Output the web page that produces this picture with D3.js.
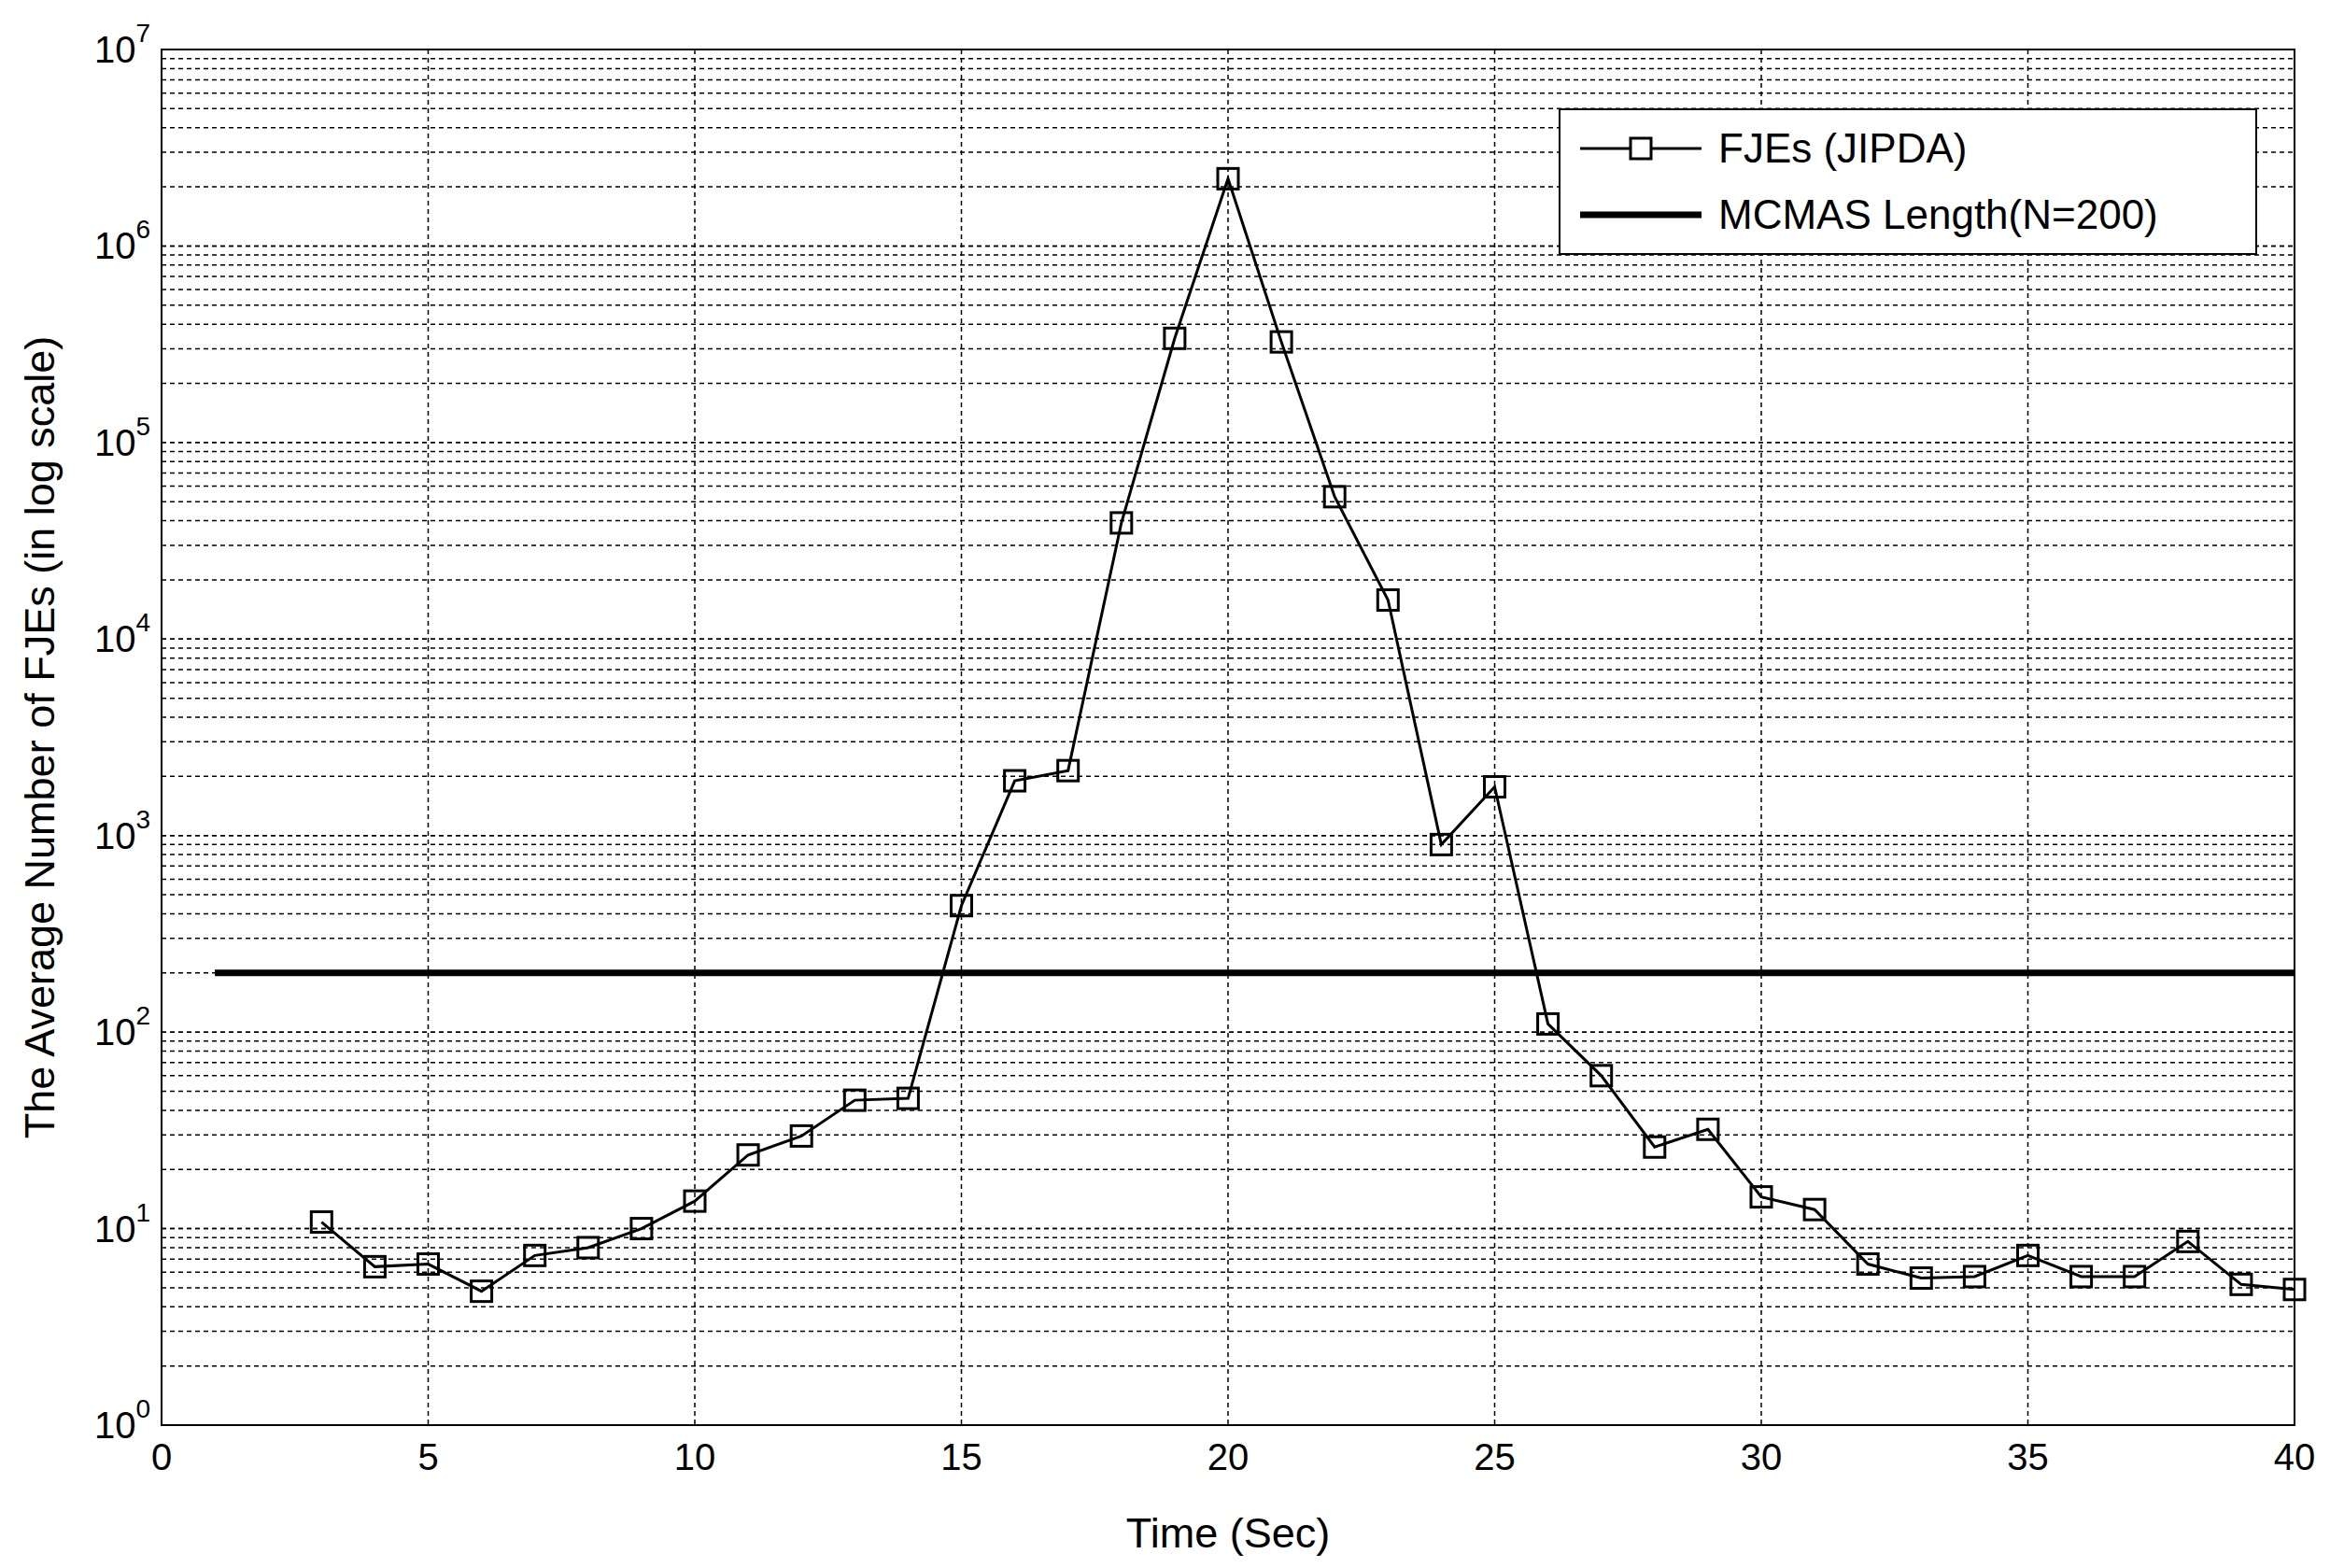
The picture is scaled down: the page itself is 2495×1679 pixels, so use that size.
<!DOCTYPE html>
<html><head><meta charset="utf-8">
<script src="https://cdn.jsdelivr.net/npm/d3@7"></script>
<style>body{margin:0;background:#fff}text{font-family:Arial,"Liberation Sans",sans-serif}</style>
</head><body><svg id="c" width="2495" height="1679"></svg>
<script>
const times = d3.range(3, 41);
const fjes = [10.8, 6.4, 6.6, 4.8, 7.3, 8.0, 10, 13.8, 23.7, 29.6, 45, 46, 440, 1900, 2140,
  39000, 339000, 2200000, 325000, 53000, 15800, 900, 1770, 110, 60, 26, 32, 14.5, 12.5,
  6.6, 5.6, 5.7, 7.3, 5.7, 5.7, 8.6, 5.2, 4.9];
const mcmasX = [1, 40];
const mcmasY = 200;
const xTicks = [0, 5, 10, 15, 20, 25, 30, 35, 40];
const yExp = [0, 1, 2, 3, 4, 5, 6, 7];

const m = {l: 173, r: 38, t: 53, b: 153};
const W = 2495, H = 1679, w = W - m.l - m.r, h = H - m.t - m.b;
const svg = d3.select("#c");
const g = svg.append("g").attr("transform", `translate(${m.l},${m.t})`);
const x = d3.scaleLinear().domain([0, 40]).range([0, w]);
const y = d3.scaleLog().domain([1, 1e7]).range([h, 0]);

// grid
const minor = [];
for (let e = 0; e < 7; e++) for (let k = 1; k <= 10; k++) minor.push(k * Math.pow(10, e));
g.selectAll(".gy").data(minor).join("line")
  .attr("x1", 0).attr("x2", w).attr("y1", d => y(d)).attr("y2", d => y(d))
  .attr("stroke", "#000").attr("stroke-width", 1.5).attr("stroke-dasharray", "5,4");
g.selectAll(".gx").data(xTicks).join("line")
  .attr("x1", d => x(d)).attr("x2", d => x(d)).attr("y1", 0).attr("y2", h)
  .attr("stroke", "#000").attr("stroke-width", 1.5).attr("stroke-dasharray", "5,4");

g.append("rect").attr("width", w).attr("height", h).attr("fill", "none").attr("stroke", "#000").attr("stroke-width", 2);

// ticks
g.selectAll(".tx").data(xTicks).join("text")
  .attr("x", d => x(d)).attr("y", h + 48).attr("text-anchor", "middle")
  .attr("font-size", 40).text(d => d);
const yl = g.selectAll(".ty").data(yExp).join("text")
  .attr("x", -12).attr("y", d => y(Math.pow(10, d)) + 14).attr("text-anchor", "end").attr("font-size", 40);
yl.append("tspan").text("10");
yl.append("tspan").attr("dy", -22).attr("font-size", 28).text(d => d);

svg.append("text").attr("x", m.l + w / 2).attr("y", H - 22).attr("text-anchor", "middle")
  .attr("font-size", 45).text("Time (Sec)");
svg.append("text").attr("transform", `translate(58,${m.t + h / 2}) rotate(-90)`).attr("text-anchor", "middle")
  .attr("font-size", 45).text("The Average Number of FJEs (in log scale)");

// MCMAS
g.append("line").attr("x1", x(mcmasX[0])).attr("x2", x(mcmasX[1]))
  .attr("y1", y(mcmasY)).attr("y2", y(mcmasY)).attr("stroke", "#000").attr("stroke-width", 7);

// FJEs
const data = times.map((t, i) => [t, fjes[i]]);
g.append("path").datum(data).attr("fill", "none").attr("stroke", "#000").attr("stroke-width", 3)
  .attr("d", d3.line().x(d => x(d[0])).y(d => y(d[1])));
const s = 22;
g.selectAll(".pt").data(data).join("rect")
  .attr("x", d => x(d[0]) - s / 2).attr("y", d => y(d[1]) - s / 2).attr("width", s).attr("height", s)
  .attr("fill", "none").attr("stroke", "#000").attr("stroke-width", 3);

// legend
const lg = svg.append("g").attr("transform", "translate(1670,117)");
lg.append("rect").attr("width", 746).attr("height", 155).attr("fill", "#fff").attr("stroke", "#000").attr("stroke-width", 2);
lg.append("line").attr("x1", 22).attr("x2", 152).attr("y1", 42).attr("y2", 42).attr("stroke", "#000").attr("stroke-width", 3);
lg.append("rect").attr("x", 76).attr("y", 31).attr("width", s).attr("height", s).attr("fill", "#fff").attr("stroke", "#000").attr("stroke-width", 3);
lg.append("line").attr("x1", 22).attr("x2", 152).attr("y1", 113).attr("y2", 113).attr("stroke", "#000").attr("stroke-width", 7);
lg.append("text").attr("x", 170).attr("y", 57).attr("font-size", 44).text("FJEs (JIPDA)");
lg.append("text").attr("x", 170).attr("y", 128).attr("font-size", 44).text("MCMAS Length(N=200)");
</script></body></html>
